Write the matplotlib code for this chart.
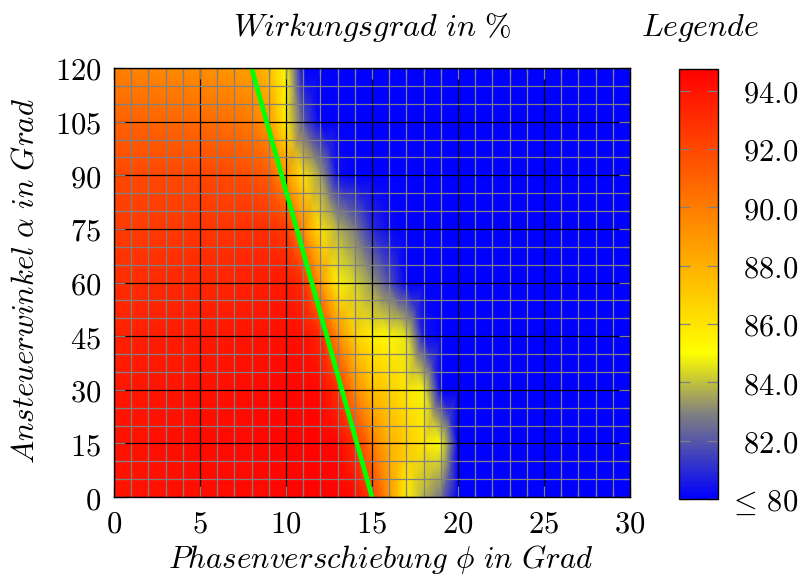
import numpy as np
import matplotlib
matplotlib.use("Agg")
import matplotlib.pyplot as plt
from matplotlib.colors import LinearSegmentedColormap
from matplotlib.ticker import MultipleLocator, FuncFormatter

plt.rcParams["mathtext.fontset"] = "cm"
plt.rcParams["font.family"] = ["DejaVu Serif"]

# Phase shift (columns) and firing angle (rows) of the efficiency map
phi = [0, 1, 2, 3, 4, 5, 6, 7, 8, 9, 10, 11, 12, 13, 14, 15,
       16, 17, 18, 19, 20, 21, 22, 23, 24, 25, 26, 27, 28, 29, 30]
alpha = [0, 15, 30, 45, 60, 75, 90, 105, 120]

# Efficiency in % for each firing angle, one value per phase shift
eff_a0 = [94.0, 94.0, 94.1, 94.1, 94.2, 94.2, 94.3, 94.3, 94.4, 94.4, 94.5,
          94.6, 94.6, 94.6, 94.3, 92.5, 89.0, 85.6, 83.8, 82.6, 80.0,
          78.0, 78.0, 78.0, 78.0, 78.0, 78.0, 78.0, 78.0, 78.0, 78.0]
eff_a15 = [94.0, 94.1, 94.1, 94.2, 94.2, 94.3, 94.3, 94.4, 94.4, 94.5, 94.5,
           94.6, 94.6, 94.5, 93.0, 90.0, 88.0, 87.0, 86.0, 85.0, 78.5,
           78.0, 78.0, 78.0, 78.0, 78.0, 78.0, 78.0, 78.0, 78.0, 78.0]
eff_a30 = [93.8, 93.9, 93.9, 94.0, 94.0, 94.1, 94.1, 94.2, 94.3, 94.4, 94.5,
           94.5, 94.4, 93.0, 89.5, 87.5, 86.8, 86.0, 84.8, 80.0, 78.0,
           78.0, 78.0, 78.0, 78.0, 78.0, 78.0, 78.0, 78.0, 78.0, 78.0]
eff_a45 = [93.5, 93.5, 93.6, 93.6, 93.7, 93.7, 93.8, 93.9, 94.0, 94.1, 94.2,
           94.2, 93.3, 89.5, 86.8, 85.6, 85.3, 84.6, 80.5, 78.0, 78.0,
           78.0, 78.0, 78.0, 78.0, 78.0, 78.0, 78.0, 78.0, 78.0, 78.0]
eff_a60 = [93.0, 93.0, 93.1, 93.1, 93.2, 93.2, 93.3, 93.4, 93.5, 93.7, 93.8,
           93.0, 89.0, 85.5, 84.3, 83.3, 81.8, 79.5, 78.0, 78.0, 78.0,
           78.0, 78.0, 78.0, 78.0, 78.0, 78.0, 78.0, 78.0, 78.0, 78.0]
eff_a75 = [92.5, 92.5, 92.5, 92.6, 92.6, 92.7, 92.7, 92.8, 92.9, 93.0, 92.5,
           89.5, 86.0, 83.8, 82.8, 81.0, 80.2, 78.5, 78.0, 78.0, 78.0,
           78.0, 78.0, 78.0, 78.0, 78.0, 78.0, 78.0, 78.0, 78.0, 78.0]
eff_a90 = [92.0, 92.0, 92.0, 92.0, 92.0, 92.0, 92.0, 91.9, 91.8, 91.2, 89.0,
           86.0, 83.5, 80.3, 78.0, 78.0, 78.0, 78.0, 78.0, 78.0, 78.0,
           78.0, 78.0, 78.0, 78.0, 78.0, 78.0, 78.0, 78.0, 78.0, 78.0]
eff_a105 = [91.0, 91.0, 90.9, 90.9, 90.8, 90.7, 90.6, 90.4, 90.0, 89.0, 85.5,
            82.0, 79.5, 78.0, 78.0, 78.0, 78.0, 78.0, 78.0, 78.0, 78.0,
            78.0, 78.0, 78.0, 78.0, 78.0, 78.0, 78.0, 78.0, 78.0, 78.0]
eff_a120 = [89.8, 89.7, 89.6, 89.5, 89.4, 89.3, 89.1, 88.9, 88.6, 87.5, 85.0,
            79.0, 78.0, 78.0, 78.0, 78.0, 78.0, 78.0, 78.0, 78.0, 78.0,
            78.0, 78.0, 78.0, 78.0, 78.0, 78.0, 78.0, 78.0, 78.0, 78.0]

# Boundary line through the map
line_phi = [15, 8]
line_alpha = [0, 120]

# Colour scale
eff_min = 80.0
eff_max = 94.75
cbar_ticks = [80, 82, 84, 86, 88, 90, 92, 94]
cbar_labels = [r"$\leq\,80$", r"$82.0$", r"$84.0$", r"$86.0$",
               r"$88.0$", r"$90.0$", r"$92.0$", r"$94.0$"]

Z = np.array([eff_a0, eff_a15, eff_a30, eff_a45, eff_a60,
              eff_a75, eff_a90, eff_a105, eff_a120])
X, Y = np.meshgrid(phi, alpha)

cmap = LinearSegmentedColormap.from_list(
    "eff",
    [(0.0, (0.0, 0.0, 1.0)),
     (0.197, (0.5, 0.5, 0.5)),
     (0.339, (1.0, 1.0, 0.0)),
     (1.0, (1.0, 0.0, 0.0))])

W, H = 805, 581
fig = plt.figure(figsize=(W / 100, H / 100), dpi=100)

ax = fig.add_axes([114 / W, 1 - 497 / H, (630 - 114) / W, (497 - 68) / H])
mesh = ax.pcolormesh(X, Y, Z, shading="gouraud", cmap=cmap,
                     vmin=eff_min, vmax=eff_max, rasterized=True)
ax.plot(line_phi, line_alpha, color=(0.0, 1.0, 0.0), lw=3.4,
        solid_capstyle="butt", zorder=3)

ax.set_xlim(0, 30)
ax.set_ylim(0, 120)
ax.xaxis.set_major_locator(MultipleLocator(5))
ax.xaxis.set_minor_locator(MultipleLocator(1))
ax.yaxis.set_major_locator(MultipleLocator(15))
ax.yaxis.set_minor_locator(MultipleLocator(5))
fmt = FuncFormatter(lambda v, p: r"$%d$" % round(v))
ax.xaxis.set_major_formatter(fmt)
ax.yaxis.set_major_formatter(fmt)

ax.grid(which="minor", color=(0.5, 0.5, 0.5), lw=0.9)
ax.grid(which="major", color="black", lw=0.9)
ax.tick_params(which="both", direction="in", color=(0.5, 0.5, 0.5),
               top=True, right=True, width=0.9, labelsize=22)
ax.tick_params(which="major", length=8)
ax.tick_params(which="minor", length=5)
ax.tick_params(axis="x", which="major", pad=8)
ax.tick_params(axis="y", which="major", pad=9)
for s in ax.spines.values():
    s.set_linewidth(1.0)
    s.set_zorder(4)

cax = fig.add_axes([679 / W, 1 - 499 / H, 39 / W, (499 - 68.7) / H])
cb = fig.colorbar(mesh, cax=cax)
cb.set_ticks(cbar_ticks)
cb.set_ticklabels(cbar_labels)
cb.outline.set_linewidth(1.0)
cax.tick_params(axis="y", which="major", direction="in", length=8,
                width=0.9, color=(0.5, 0.5, 0.5), left=True, right=True,
                labelsize=22, pad=58)
cax.tick_params(axis="y", which="minor", length=0)
for lbl in cax.get_yticklabels():
    lbl.set_horizontalalignment("right")

fig.text(372 / W, 1 - 27 / H, r"$Wirkungsgrad\ in\ \%$", ha="center",
         va="center", fontsize=23)
fig.text(700 / W, 1 - 28 / H, r"$Legende$", ha="center", va="center",
         fontsize=23)
fig.text(381 / W, 1 - 560 / H, r"$Phasenverschiebung\ \phi\ in\ Grad$",
         ha="center", va="center", fontsize=22.2)
fig.text(25 / W, 1 - 281 / H, r"$Ansteuerwinkel\ \alpha\ in\ Grad$",
         ha="center", va="center", rotation=90, fontsize=22.2)

fig.savefig("out.png", dpi=100)
